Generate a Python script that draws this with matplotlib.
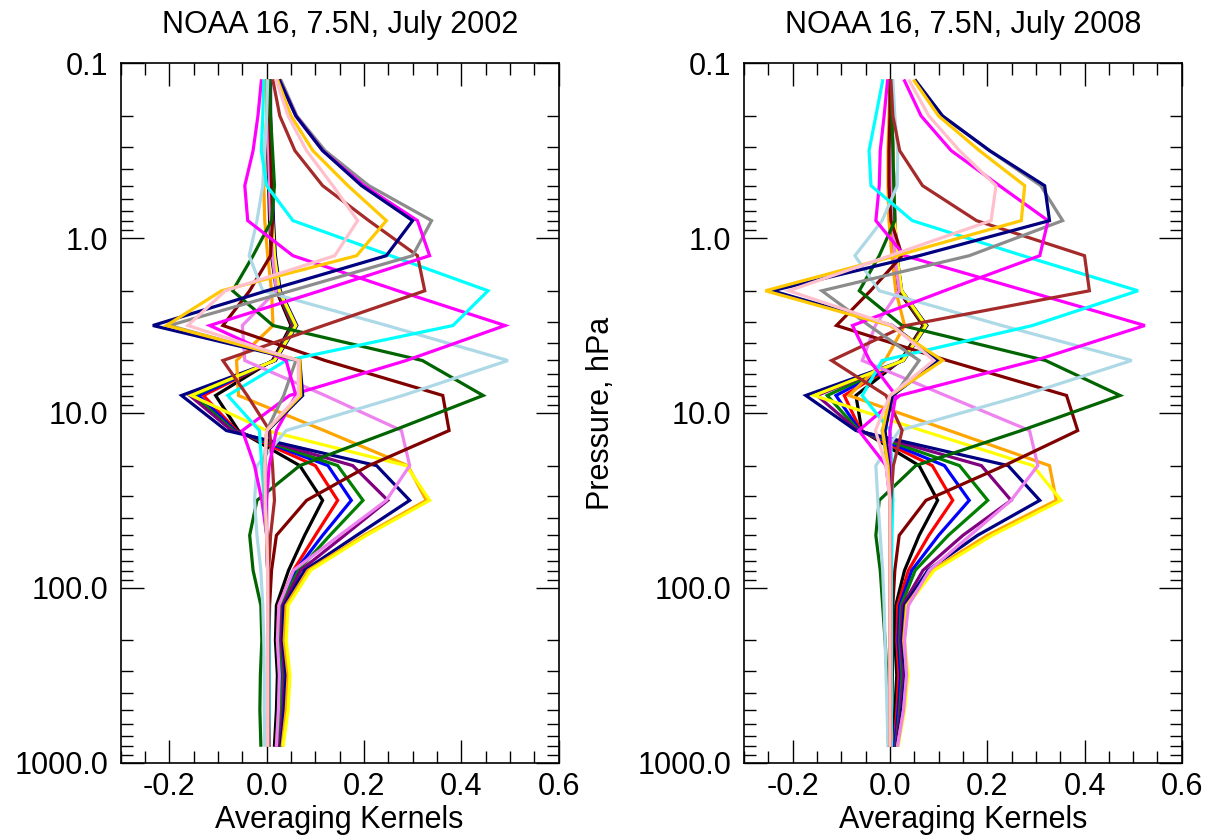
import matplotlib
matplotlib.use("Agg")
import matplotlib.pyplot as plt
from matplotlib.ticker import LogLocator, NullFormatter, MultipleLocator, FixedLocator, FixedFormatter

plt.rcParams['font.family'] = ['Liberation Sans', 'DejaVu Sans']
plt.rcParams['axes.unicode_minus'] = False

# ---------------- data ----------------
pressure = [0.126, 0.2, 0.316, 0.501, 0.794, 1.26, 2.0, 3.16, 5.01, 7.94,
            12.6, 20.0, 31.6, 50.1, 79.4, 126.0, 200.0, 316.0, 501.0, 794.0]

titles = ["NOAA 16, 7.5N, July 2002", "NOAA 16, 7.5N, July 2008"]
xticks = [-0.2, 0.0, 0.2, 0.4, 0.6]
xtick_labels = ["-0.2", "0.0", "0.2", "0.4", "0.6"]
yticks = [0.1, 1.0, 10.0, 100.0, 1000.0]
ytick_labels = ["0.1", "1.0", "10.0", "100.0", "1000.0"]

# July 2002
ak02_black   = [0.000, 0.000, 0.002, 0.004, 0.006, 0.010, 0.020, 0.050, 0.012, -0.105, -0.058, 0.068, 0.115, 0.078, 0.045, 0.020, 0.018, 0.022, 0.020, 0.016]
ak02_red     = [0.002, 0.002, 0.004, 0.006, 0.008, 0.012, 0.022, 0.053, 0.014, -0.130, -0.062, 0.100, 0.146, 0.100, 0.055, 0.025, 0.022, 0.028, 0.025, 0.020]
ak02_blue    = [0.004, 0.004, 0.006, 0.008, 0.010, 0.014, 0.024, 0.055, 0.015, -0.140, -0.065, 0.126, 0.174, 0.115, 0.060, 0.028, 0.025, 0.032, 0.028, 0.022]
ak02_green   = [0.004, 0.004, 0.006, 0.008, 0.010, 0.015, 0.025, 0.056, 0.016, -0.150, -0.068, 0.146, 0.198, 0.130, 0.065, 0.030, 0.027, 0.034, 0.030, 0.024]
ak02_purple  = [0.006, 0.006, 0.008, 0.010, 0.012, 0.016, 0.026, 0.058, 0.017, -0.158, -0.072, 0.177, 0.249, 0.160, 0.070, 0.033, 0.030, 0.037, 0.033, 0.027]
ak02_navy    = [0.008, 0.008, 0.010, 0.012, 0.014, 0.018, 0.028, 0.062, 0.018, -0.175, -0.083, 0.226, 0.294, 0.185, 0.078, 0.036, 0.033, 0.040, 0.036, 0.030]
ak02_orange  = [0.000, 0.000, -0.004, -0.006, -0.004, 0.002, 0.010, 0.013, -0.062, -0.058, 0.118, 0.290, 0.328, 0.200, 0.085, 0.040, 0.036, 0.044, 0.040, 0.032]
ak02_yellow  = [0.006, 0.006, 0.008, 0.010, 0.012, 0.016, 0.026, 0.060, 0.016, -0.155, 0.000, 0.287, 0.335, 0.205, 0.090, 0.044, 0.040, 0.048, 0.044, 0.034]
ak02_violet  = [0.004, 0.004, 0.004, 0.006, 0.008, 0.012, 0.020, -0.050, -0.045, 0.120, 0.277, 0.294, 0.246, 0.150, 0.055, 0.025, 0.022, 0.026, 0.024, 0.020]
ak02_maroon  = [0.005, 0.006, 0.008, 0.010, 0.012, 0.008, -0.035, -0.090, 0.120, 0.362, 0.375, 0.210, 0.082, 0.020, 0.010, 0.006, 0.005, 0.005, 0.005, 0.005]
ak02_dkgreen = [0.006, 0.008, 0.012, 0.016, 0.010, -0.028, -0.070, 0.013, 0.320, 0.445, 0.260, 0.068, -0.020, -0.035, -0.028, -0.012, -0.010, -0.013, -0.014, -0.012]
ak02_ltblue  = [0.002, 0.000, -0.004, -0.008, -0.020, -0.036, -0.008, 0.247, 0.496, 0.280, 0.040, -0.020, -0.025, -0.020, -0.012, -0.008, -0.006, -0.005, -0.005, -0.004]
ak02_magB    = [-0.011, -0.018, -0.028, -0.045, -0.039, 0.054, 0.270, 0.490, 0.287, 0.047, -0.050, -0.025, -0.010, 0.000, 0.002, 0.002, 0.003, 0.003, 0.003, 0.002]
ak02_cyan    = [-0.006, -0.008, -0.011, 0.000, 0.054, 0.255, 0.455, 0.383, 0.040, -0.080, -0.015, -0.010, -0.005, 0.000, 0.002, 0.004, 0.005, 0.005, 0.005, 0.004]
ak02_brown   = [0.013, 0.027, 0.058, 0.115, 0.210, 0.310, 0.325, 0.117, -0.090, -0.040, 0.006, 0.012, 0.016, 0.008, 0.004, 0.003, 0.003, 0.003, 0.003, 0.003]
ak02_magA    = [0.027, 0.060, 0.115, 0.200, 0.310, 0.335, 0.110, -0.117, 0.040, 0.060, 0.020, 0.005, 0.000, 0.000, 0.002, 0.002, 0.002, 0.002, 0.002, 0.002]
ak02_gray    = [0.030, 0.062, 0.120, 0.210, 0.339, 0.300, 0.050, -0.200, 0.060, 0.035, 0.000, -0.005, -0.004, 0.000, 0.002, 0.002, 0.002, 0.002, 0.002, 0.002]
ak02_navy2   = [0.027, 0.060, 0.115, 0.195, 0.300, 0.246, 0.000, -0.234, 0.068, 0.074, 0.002, -0.004, -0.003, 0.000, 0.002, 0.002, 0.002, 0.002, 0.002, 0.002]
ak02_gold    = [0.023, 0.050, 0.095, 0.167, 0.246, 0.185, -0.093, -0.206, 0.068, 0.070, 0.000, -0.004, -0.003, 0.000, 0.002, 0.002, 0.002, 0.002, 0.002, 0.002]
ak02_pink    = [0.020, 0.044, 0.082, 0.136, 0.187, 0.140, -0.085, -0.162, 0.065, 0.065, 0.000, -0.004, -0.003, 0.000, 0.002, 0.002, 0.002, 0.002, 0.002, 0.002]

# July 2008
ak08_black   = [0.000, 0.000, 0.000, 0.002, 0.004, 0.008, 0.018, 0.068, 0.022, -0.070, -0.058, 0.060, 0.098, 0.060, 0.030, 0.012, 0.010, 0.014, 0.010, 0.006]
ak08_red     = [0.000, 0.000, 0.002, 0.004, 0.006, 0.010, 0.020, 0.070, 0.024, -0.094, -0.060, 0.087, 0.129, 0.080, 0.038, 0.016, 0.014, 0.018, 0.014, 0.008]
ak08_blue    = [0.002, 0.002, 0.004, 0.006, 0.008, 0.012, 0.022, 0.072, 0.025, -0.111, -0.062, 0.112, 0.163, 0.100, 0.045, 0.020, 0.017, 0.022, 0.017, 0.010]
ak08_green   = [0.002, 0.002, 0.004, 0.006, 0.008, 0.012, 0.022, 0.072, 0.026, -0.129, -0.064, 0.143, 0.201, 0.120, 0.052, 0.023, 0.020, 0.025, 0.020, 0.012]
ak08_purple  = [0.004, 0.004, 0.006, 0.008, 0.010, 0.014, 0.024, 0.074, 0.027, -0.150, -0.066, 0.188, 0.249, 0.150, 0.068, 0.026, 0.022, 0.028, 0.022, 0.013]
ak08_navy    = [0.004, 0.004, 0.006, 0.008, 0.010, 0.014, 0.024, 0.076, 0.028, -0.173, -0.070, 0.243, 0.308, 0.180, 0.078, 0.030, 0.025, 0.032, 0.025, 0.015]
ak08_orange  = [0.000, -0.002, -0.004, -0.004, -0.002, 0.004, 0.012, 0.030, -0.010, -0.084, 0.122, 0.328, 0.342, 0.200, 0.086, 0.034, 0.028, 0.035, 0.028, 0.016]
ak08_yellow  = [0.004, 0.004, 0.006, 0.008, 0.010, 0.014, 0.024, 0.074, 0.027, -0.156, 0.066, 0.294, 0.352, 0.210, 0.091, 0.036, 0.030, 0.037, 0.030, 0.017]
ak08_violet  = [0.002, 0.002, 0.002, 0.004, 0.006, 0.010, 0.019, -0.030, -0.057, 0.114, 0.287, 0.304, 0.249, 0.165, 0.081, 0.038, 0.030, 0.034, 0.028, 0.016]
ak08_maroon  = [0.000, 0.000, -0.002, -0.002, 0.002, 0.025, -0.040, -0.110, 0.118, 0.363, 0.386, 0.235, 0.074, 0.019, 0.010, 0.006, 0.005, 0.005, 0.004, 0.003]
ak08_dkgreen = [0.002, 0.004, 0.006, 0.008, 0.010, -0.022, -0.063, 0.025, 0.320, 0.473, 0.270, 0.053, -0.022, -0.029, -0.020, -0.015, -0.010, -0.006, -0.004, -0.003]
ak08_ltblue  = [0.006, 0.010, 0.016, 0.015, -0.016, -0.072, -0.022, 0.230, 0.497, 0.273, 0.019, -0.029, -0.025, -0.020, -0.015, -0.012, -0.010, -0.008, -0.006, -0.004]
ak08_magB    = [-0.005, -0.012, -0.020, -0.022, -0.029, 0.030, 0.279, 0.524, 0.298, 0.020, -0.064, -0.008, 0.000, 0.000, 0.000, 0.000, 0.000, 0.000, 0.000, 0.000]
ak08_cyan    = [-0.015, -0.029, -0.043, -0.039, 0.046, 0.273, 0.510, 0.293, -0.016, -0.057, 0.000, 0.004, 0.006, 0.004, 0.003, 0.003, 0.003, 0.003, 0.003, 0.003]
ak08_brown   = [0.002, 0.006, 0.020, 0.067, 0.178, 0.400, 0.410, 0.033, -0.120, -0.008, 0.025, 0.007, 0.002, 0.000, 0.000, 0.000, 0.000, 0.000, 0.000, 0.000]
ak08_magA    = [0.030, 0.064, 0.126, 0.225, 0.325, 0.308, 0.112, -0.077, -0.042, 0.012, 0.000, 0.000, 0.000, 0.000, 0.000, 0.000, 0.000, 0.000, 0.000, 0.000]
ak08_gray    = [0.053, 0.108, 0.205, 0.310, 0.355, 0.163, -0.140, -0.043, 0.060, 0.009, -0.016, -0.004, 0.000, 0.000, 0.000, 0.000, 0.000, 0.000, 0.000, 0.000]
ak08_navy2   = [0.053, 0.108, 0.205, 0.318, 0.328, 0.060, -0.242, 0.005, 0.100, 0.005, -0.010, -0.002, 0.000, 0.000, 0.000, 0.000, 0.000, 0.000, 0.000, 0.000]
ak08_gold    = [0.050, 0.100, 0.184, 0.277, 0.270, 0.013, -0.256, 0.000, 0.108, 0.000, -0.015, -0.004, 0.000, 0.000, 0.000, 0.000, 0.000, 0.000, 0.000, 0.000]
ak08_pink    = [0.040, 0.080, 0.143, 0.218, 0.208, 0.000, -0.208, 0.005, 0.090, 0.000, -0.030, -0.008, 0.000, 0.000, 0.000, 0.000, 0.000, 0.000, 0.000, 0.000]

series_2002 = [ak02_black, ak02_red, ak02_blue, ak02_green, ak02_purple, ak02_navy,
               ak02_orange, ak02_yellow, ak02_violet, ak02_maroon, ak02_dkgreen,
               ak02_ltblue, ak02_magB, ak02_cyan, ak02_brown, ak02_gray, ak02_magA,
               ak02_navy2, ak02_gold, ak02_pink]
series_2008 = [ak08_black, ak08_red, ak08_blue, ak08_green, ak08_purple, ak08_navy,
               ak08_orange, ak08_yellow, ak08_violet, ak08_maroon, ak08_dkgreen,
               ak08_ltblue, ak08_magB, ak08_cyan, ak08_brown, ak08_gray, ak08_magA,
               ak08_navy2, ak08_gold, ak08_pink]

# ---------------- styles ----------------
colors = ['#000000', '#FF0000', '#0000FF', '#007F00', '#800080', '#000080',
          '#FFA500', '#FFFF00', '#EE82EE', '#800000', '#006400',
          '#ADD8E6', '#FF00FF', '#00FFFF', '#A52A2A', '#8C8C8C', '#FF00FF',
          '#000080', '#FFC800', '#FFC0CB']

FS = 22
fig = plt.figure(figsize=(12.1, 8.35), dpi=100)
ax1 = fig.add_axes([0.0998, 0.0866, 0.3618, 0.8376])
ax2 = fig.add_axes([0.6149, 0.0866, 0.3618, 0.8376])

for ax, series, title in [(ax1, series_2002, titles[0]), (ax2, series_2008, titles[1])]:
    for vals, c in zip(series, colors):
        ax.plot(vals, pressure, color=c, lw=2.3, solid_joinstyle='miter')
    ax.set_yscale('log')
    ax.set_ylim(1000, 0.1)
    ax.set_xlim(-0.3, 0.6)
    ax.yaxis.set_major_locator(FixedLocator(yticks))
    ax.yaxis.set_major_formatter(FixedFormatter(ytick_labels))
    ax.yaxis.set_minor_locator(LogLocator(base=10, subs=range(2, 10), numticks=20))
    ax.yaxis.set_minor_formatter(NullFormatter())
    ax.xaxis.set_major_locator(FixedLocator(xticks))
    ax.xaxis.set_major_formatter(FixedFormatter(xtick_labels))
    ax.xaxis.set_minor_locator(MultipleLocator(0.05))
    ax.tick_params(which='both', direction='in', top=True, right=True, width=1.0, colors='black')
    ax.tick_params(which='major', length=16.5, labelsize=FS)
    ax.tick_params(which='minor', length=8.5)
    ax.tick_params(axis='x', which='major', pad=7)
    ax.tick_params(axis='y', which='major', pad=9)
    for sp in ax.spines.values():
        sp.set_linewidth(1.2)
    ax.set_title(title, fontsize=FS, pad=22)
    ax.set_xlabel("Averaging Kernels", fontsize=FS, labelpad=2)

fig.text(601 / 1210, 0.505, "Pressure, hPa", rotation=90, ha='center', va='center', fontsize=FS)

fig.savefig("out.png", dpi=100)
